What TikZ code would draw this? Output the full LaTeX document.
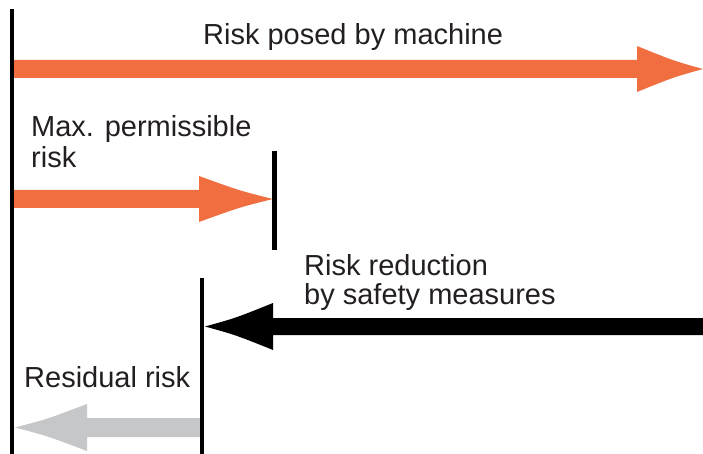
\documentclass[tikz,border=0pt]{standalone}
\usepackage{fontspec}
\setmainfont{Liberation Sans}
\usetikzlibrary{calc}
\definecolor{riskorange}{RGB}{240,110,64}
\definecolor{residgrey}{RGB}{198,199,200}
\definecolor{txtgrey}{RGB}{35,31,32}
% #1 colour, #2 tail, #3 tip, #4 head length, #5 shaft half width, #6 head half width, #7 direction (1 right, -1 left)
\newcommand{\fatarrow}[7]{%
  \fill[#1] ($(#2)+(0,-#5)$) -- ($(#3)+({-(#7)*(#4)},-#5)$) -- ($(#3)+({-(#7)*(#4)},-#6)$)
    .. controls ($(#3)+({-(#7)*0.45*(#4)},{-0.36*(#6)})$) .. (#3)
    .. controls ($(#3)+({-(#7)*0.45*(#4)},{0.36*(#6)})$) .. ($(#3)+({-(#7)*(#4)},#6)$)
    -- ($(#3)+({-(#7)*(#4)},#5)$) -- ($(#2)+(0,#5)$) -- cycle;}
\begin{document}
\begin{tikzpicture}[x=1pt,y=-1pt,
  lbl/.style={font=\fontsize{29}{31}\selectfont, text=txtgrey, inner sep=0pt, anchor=base west},
  bar/.style={line width=4.6pt, draw=black}]
\useasboundingbox (0,0) rectangle (703,454);
% end points
\coordinate (S1) at (12,69);     \coordinate (T1) at (703,69);
\coordinate (S2) at (12,199);    \coordinate (T2) at (273,199);
\coordinate (S3) at (703,326.5); \coordinate (T3) at (205,326.5);
\coordinate (S4) at (200,427.5); \coordinate (T4) at (15,427.5);
\coordinate (Ltop) at (12,9);    \coordinate (Lbot) at (12,454);
\coordinate (Mtop) at (274.5,151); \coordinate (Mbot) at (274.5,250);
\coordinate (Rtop) at (202,278); \coordinate (Rbot) at (202,454);
% arrows
\fatarrow{riskorange}{S1}{T1}{66}{9}{23}{1}
\fatarrow{riskorange}{S2}{T2}{74}{9}{23}{1}
\fatarrow{black}{S3}{T3}{68}{8.5}{23.5}{-1}
\fatarrow{residgrey}{S4}{T4}{72}{9.5}{23.5}{-1}
% bars
\draw[bar] (Ltop) -- (Lbot);
\draw[bar] (Mtop) -- (Mbot);
\draw[bar] (Rtop) -- (Rbot);
% labels
\node[lbl] (posed) at (203,45) {Risk posed by machine};
\node[lbl, align=left] (maxp) at (31,168) {Max. permissible\\risk};
\node[lbl, align=left, font=\fontsize{29}{29}\selectfont] (reduct) at (304,304) {Risk reduction\\by safety measures};
\node[lbl] (resid) at (24,387) {Residual risk};
\end{tikzpicture}
\end{document}
